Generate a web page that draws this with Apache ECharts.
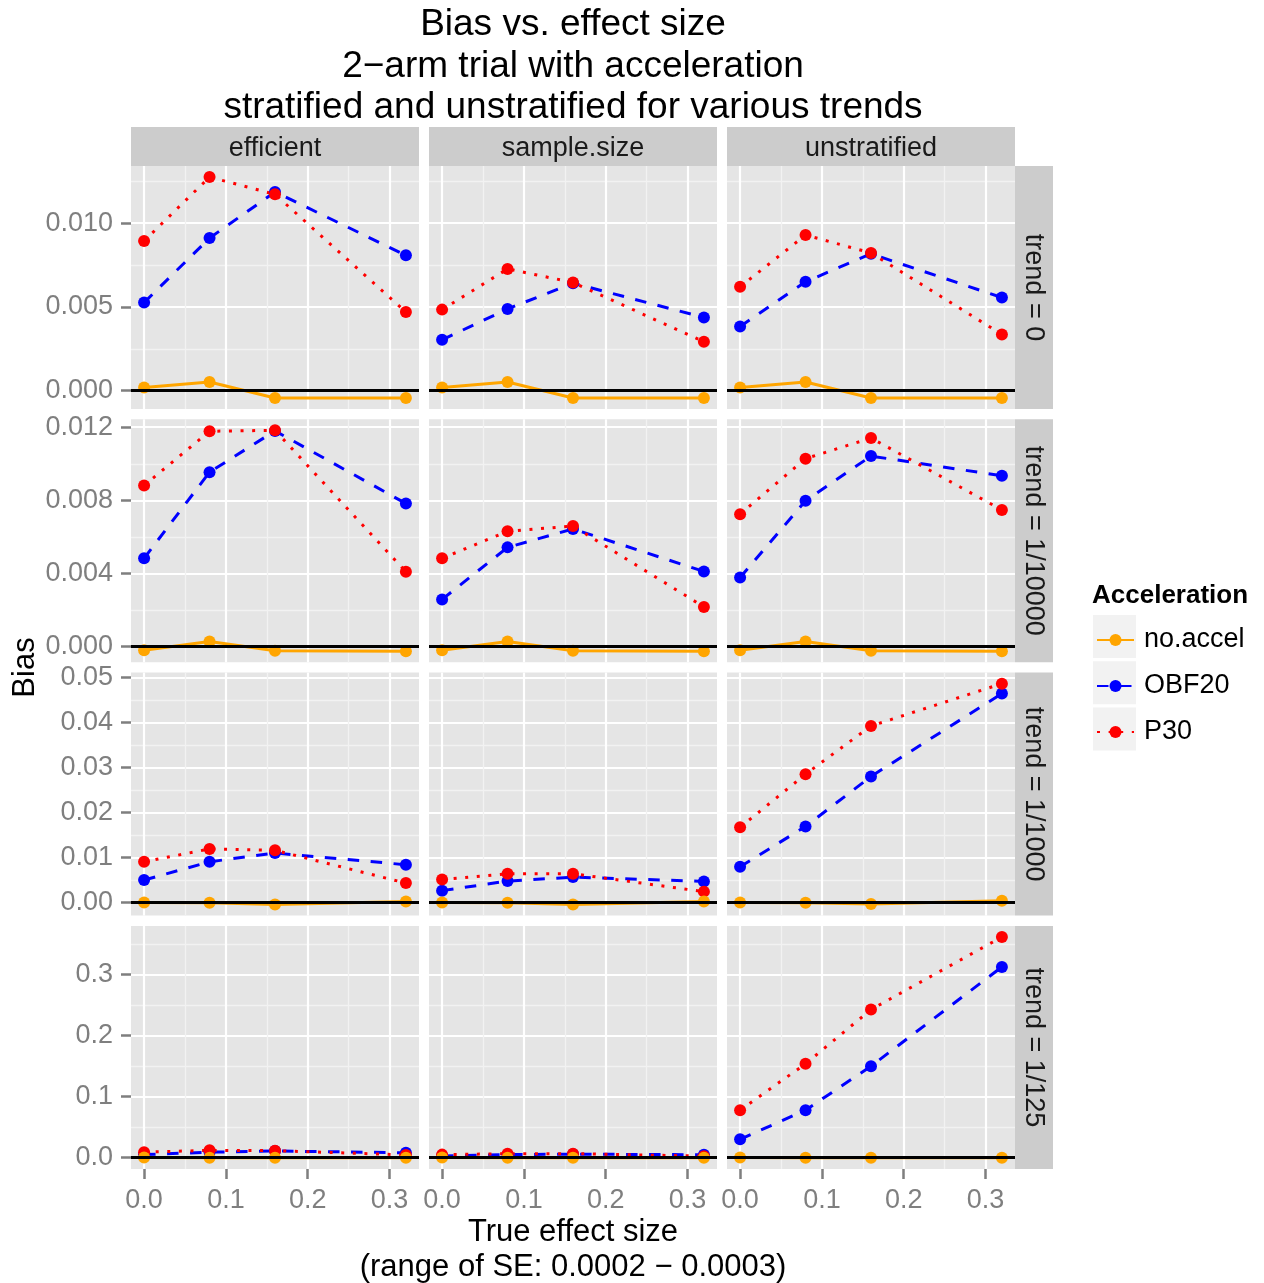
<!DOCTYPE html>
<html><head><meta charset="utf-8">
<script src="https://cdn.jsdelivr.net/npm/echarts@6/dist/echarts.min.js"></script>
<style>html,body{margin:0;padding:0;background:#fff}#c{width:1264px;height:1283px}</style>
</head><body><div id="c"></div>
<script>
// ---------- data ----------
const xValues = [0, 0.08, 0.16, 0.32];
const xTicks = [0, 0.1, 0.2, 0.3];
const xTickLabels = ['0.0', '0.1', '0.2', '0.3'];
const columns = ['efficient', 'sample.size', 'unstratified'];
const rowLabels = ['trend = 0', 'trend = 1/10000', 'trend = 1/1000', 'trend = 1/125'];
const seriesNames = ['no.accel', 'OBF20', 'P30'];
const refLine = 0;

const yTicksTrend0 = [0, 0.005, 0.010];
const yLabelsTrend0 = ['0.000', '0.005', '0.010'];
const yTicksTrend10000 = [0, 0.004, 0.008, 0.012];
const yLabelsTrend10000 = ['0.000', '0.004', '0.008', '0.012'];
const yTicksTrend1000 = [0, 0.01, 0.02, 0.03, 0.04, 0.05];
const yLabelsTrend1000 = ['0.00', '0.01', '0.02', '0.03', '0.04', '0.05'];
const yTicksTrend125 = [0, 0.1, 0.2, 0.3];
const yLabelsTrend125 = ['0.0', '0.1', '0.2', '0.3'];

// values: [efficient, sample.size, unstratified], each over xValues
const trend0_noAccel = [[0.0002, 0.00052, -0.00043, -0.00043], [0.0002, 0.00052, -0.00043, -0.00043], [0.0002, 0.00052, -0.00043, -0.00043]];
const trend0_OBF20   = [[0.00526, 0.00911, 0.01186, 0.00808], [0.00304, 0.00488, 0.00642, 0.00437], [0.00384, 0.0065, 0.00817, 0.00556]];
const trend0_P30     = [[0.00894, 0.01275, 0.01172, 0.0047], [0.00484, 0.00727, 0.00646, 0.00292], [0.0062, 0.00929, 0.00822, 0.00336]];

const trend10000_noAccel = [[-0.00022, 0.00026, -0.00024, -0.00027], [-0.00022, 0.00026, -0.00024, -0.00027], [-0.00022, 0.00026, -0.00024, -0.00027]];
const trend10000_OBF20   = [[0.00482, 0.00954, 0.0118, 0.00782], [0.00257, 0.00542, 0.00643, 0.0041], [0.00377, 0.00797, 0.01042, 0.00934]];
const trend10000_P30     = [[0.00881, 0.01178, 0.01183, 0.00408], [0.00482, 0.0063, 0.00659, 0.00216], [0.00724, 0.01028, 0.01141, 0.00747]];

const trend1000_noAccel = [[0, -0.00005, -0.00044, 0.00022], [0, -0.00005, -0.00044, 0.00022], [0, -0.00003, -0.0003, 0.0004]];
const trend1000_OBF20   = [[0.005, 0.00905, 0.011, 0.0084], [0.00265, 0.00477, 0.00565, 0.0047], [0.00795, 0.0169, 0.028, 0.0464]];
const trend1000_P30     = [[0.00905, 0.0119, 0.0116, 0.00433], [0.00514, 0.0064, 0.0064, 0.00243], [0.0167, 0.0285, 0.0392, 0.0486]];

const trend125_noAccel = [[0.0001, 0, -0.0002, -0.0003], [0.0001, 0, -0.0002, -0.0003], [0.0001, 0, -0.0002, -0.0003]];
const trend125_OBF20   = [[0.005, 0.009, 0.011, 0.008], [0.0028, 0.005, 0.0058, 0.0048], [0.030, 0.0779, 0.150, 0.3126]];
const trend125_P30     = [[0.009, 0.012, 0.0115, 0.0045], [0.005, 0.0065, 0.0066, 0.0025], [0.0779, 0.1538, 0.2427, 0.3617]];

// ---------- assembly ----------
const rowData = [
  {'no.accel': trend0_noAccel, 'OBF20': trend0_OBF20, 'P30': trend0_P30},
  {'no.accel': trend10000_noAccel, 'OBF20': trend10000_OBF20, 'P30': trend10000_P30},
  {'no.accel': trend1000_noAccel, 'OBF20': trend1000_OBF20, 'P30': trend1000_P30},
  {'no.accel': trend125_noAccel, 'OBF20': trend125_OBF20, 'P30': trend125_P30}
];
const yTicksByRow = [yTicksTrend0, yTicksTrend10000, yTicksTrend1000, yTicksTrend125];
const yLabelsByRow = [yLabelsTrend0, yLabelsTrend10000, yLabelsTrend1000, yLabelsTrend125];

const FONT = '"Liberation Sans", Arial, Helvetica, sans-serif';
const colLeft = [131, 429, 727];
const panelW = 288;
const rowTop = [166, 419.3, 672.6, 925.9];
const panelH = 243;
const stripTop = 127, stripH = 39, stripRW = 38;
const TICK_GREY = '#7F7F7F';

const styles = {
  'no.accel': {color: '#FFA500', type: 'solid'},
  'OBF20': {color: '#0000FF', type: [11.5, 11.5]},
  'P30': {color: '#FF0000', type: [3, 8.6]}
};
const drawOrder = ['OBF20', 'P30', 'no.accel'];

function minorOf(ticks, lo, hi) {
  const step = ticks[1] - ticks[0];
  const out = [];
  for (let i = -1; i < ticks.length; i++) {
    const v = ticks[0] + (i + 0.5) * step;
    if (v > lo && v < hi) out.push(v);
  }
  return out;
}
function labelFor(ticks, labels) {
  return function (v) {
    const i = ticks.findIndex(t => Math.abs(t - v) < 1e-9);
    return i >= 0 ? labels[i] : '';
  };
}

const xLo = Math.min(...xValues), xHi = Math.max(...xValues);
const xPad = (xHi - xLo) * 0.05;
const xMin = xLo - xPad, xMax = xHi + xPad;
const xMinor = minorOf(xTicks, xMin, xMax);

const grids = [], xAxes = [], yAxes = [], series = [], graphics = [];

for (let r = 0; r < 4; r++) {
  const rd = rowData[r];
  let all = [refLine];
  seriesNames.forEach(n => rd[n].forEach(a => { all = all.concat(a); }));
  const lo = Math.min(...all), hi = Math.max(...all);
  const pad = (hi - lo) * 0.05;
  const yMin = lo - pad, yMax = hi + pad;
  const yT = yTicksByRow[r];
  const yMinor = minorOf(yT, yMin, yMax);
  for (let c = 0; c < 3; c++) {
    const g = r * 3 + c;
    grids.push({left: colLeft[c], top: rowTop[r], width: panelW, height: panelH,
      show: true, backgroundColor: '#E5E5E5', borderWidth: 0, containLabel: false, outerBoundsMode: 'none'});
    xAxes.push({gridIndex: g, type: 'value', min: xMin, max: xMax, position: 'top',
      axisLine: {show: false, onZero: false}, axisTick: {show: false, customValues: xMinor},
      axisLabel: {show: false}, splitLine: {show: true, lineStyle: {color: '#F2F2F2', width: 1.3}}});
    xAxes.push({gridIndex: g, type: 'value', min: xMin, max: xMax, position: 'bottom',
      axisLine: {show: false, onZero: false},
      axisTick: {show: r === 3, customValues: xTicks, length: 10, lineStyle: {color: TICK_GREY, width: 2.5}},
      axisLabel: {show: r === 3, customValues: xTicks, formatter: labelFor(xTicks, xTickLabels),
        margin: 18, color: TICK_GREY, fontSize: 27, fontFamily: FONT},
      splitLine: {show: true, lineStyle: {color: '#FFFFFF', width: 2.2}}});
    yAxes.push({gridIndex: g, type: 'value', min: yMin, max: yMax, position: 'right',
      axisLine: {show: false, onZero: false}, axisTick: {show: false, customValues: yMinor},
      axisLabel: {show: false}, splitLine: {show: true, lineStyle: {color: '#F2F2F2', width: 1.3}}});
    yAxes.push({gridIndex: g, type: 'value', min: yMin, max: yMax, position: 'left',
      axisLine: {show: false, onZero: false},
      axisTick: {show: c === 0, customValues: yT, length: 10, lineStyle: {color: TICK_GREY, width: 2.5}},
      axisLabel: {show: c === 0, customValues: yT, formatter: labelFor(yT, yLabelsByRow[r]),
        margin: 18, color: TICK_GREY, fontSize: 27, fontFamily: FONT, padding: [9, 0, 0, 0]},
      splitLine: {show: true, lineStyle: {color: '#FFFFFF', width: 2.2}}});

    const xi = 2 * g + 1, yi = 2 * g + 1;
    series.push({type: 'line', xAxisIndex: xi, yAxisIndex: yi, data: [], z: 1, silent: true,
      animation: false,
      markLine: {silent: true, symbol: ['none', 'none'], animation: false, label: {show: false},
        lineStyle: {color: '#000', width: 2.8, type: 'solid'}, emphasis: {disabled: true},
        data: [{yAxis: refLine}]}});
    drawOrder.forEach(n => {
      const vals = rd[n][c];
      series.push({type: 'line', name: n, xAxisIndex: xi, yAxisIndex: yi,
        data: xValues.map((x, i) => [x, vals[i]]),
        symbol: 'circle', symbolSize: 12, showSymbol: true, showAllSymbol: true,
        lineStyle: {color: styles[n].color, width: 3, type: styles[n].type, cap: 'butt'},
        itemStyle: {color: styles[n].color, borderWidth: 0},
        emphasis: {disabled: true}, silent: true, z: 2, animation: false, clip: false});
    });
  }
}

// strips
columns.forEach((name, c) => {
  graphics.push({type: 'rect', shape: {x: colLeft[c], y: stripTop, width: panelW, height: stripH},
    style: {fill: '#CCCCCC'}, silent: true});
  graphics.push({type: 'text', x: colLeft[c] + panelW / 2, y: stripTop + stripH / 2 + 2, silent: true,
    style: {text: name, font: '27px ' + FONT, fill: '#1A1A1A', align: 'center', verticalAlign: 'middle'}});
});
rowLabels.forEach((name, r) => {
  const sx = colLeft[2] + panelW;
  graphics.push({type: 'rect', shape: {x: sx, y: rowTop[r], width: stripRW, height: panelH},
    style: {fill: '#CCCCCC'}, silent: true});
  graphics.push({type: 'text', x: sx + stripRW / 2 - 1, y: rowTop[r] + panelH / 2, rotation: -Math.PI / 2, silent: true,
    style: {text: name, font: '27px ' + FONT, fill: '#1A1A1A', align: 'center', verticalAlign: 'middle'}});
});
// titles
graphics.push({type: 'text', x: 573, y: 66.5, silent: true,
  style: {text: 'Bias vs. effect size\n2\u2212arm trial with acceleration\nstratified and unstratified for various trends',
    font: '37px ' + FONT, fill: '#000', align: 'center', verticalAlign: 'middle', lineHeight: 41.5}});
graphics.push({type: 'text', x: 573, y: 1250, silent: true,
  style: {text: 'True effect size\n(range of SE: 0.0002 \u2212 0.0003)',
    font: '31px ' + FONT, fill: '#000', align: 'center', verticalAlign: 'middle', lineHeight: 35}});
graphics.push({type: 'text', x: 25, y: 667.5, rotation: Math.PI / 2, silent: true,
  style: {text: 'Bias', font: '31px ' + FONT, fill: '#000', align: 'center', verticalAlign: 'middle'}});
// legend
graphics.push({type: 'text', x: 1092, y: 596, silent: true,
  style: {text: 'Acceleration', font: 'bold 26px ' + FONT, fill: '#000', align: 'left', verticalAlign: 'middle'}});
seriesNames.forEach((n, i) => {
  graphics.push({type: 'rect', shape: {x: 1093, y: 615 + i * 46.3, width: 43, height: 43},
    style: {fill: '#F2F2F2'}, silent: true, z: -1});
});

const chart = echarts.init(document.getElementById('c'), null, {renderer: 'canvas'});
chart.setOption({
  animation: false,
  grid: grids, xAxis: xAxes, yAxis: yAxes, series: series,
  legend: {show: true, orient: 'vertical', left: 1091, top: 620, itemWidth: 37, itemHeight: 15, itemGap: 16,
    data: seriesNames, selectedMode: false,
    textStyle: {fontSize: 27, color: '#000', fontFamily: FONT, padding: [0, 0, 0, 5], lineHeight: 30}},
  graphic: {elements: graphics}
});
</script></body></html>
